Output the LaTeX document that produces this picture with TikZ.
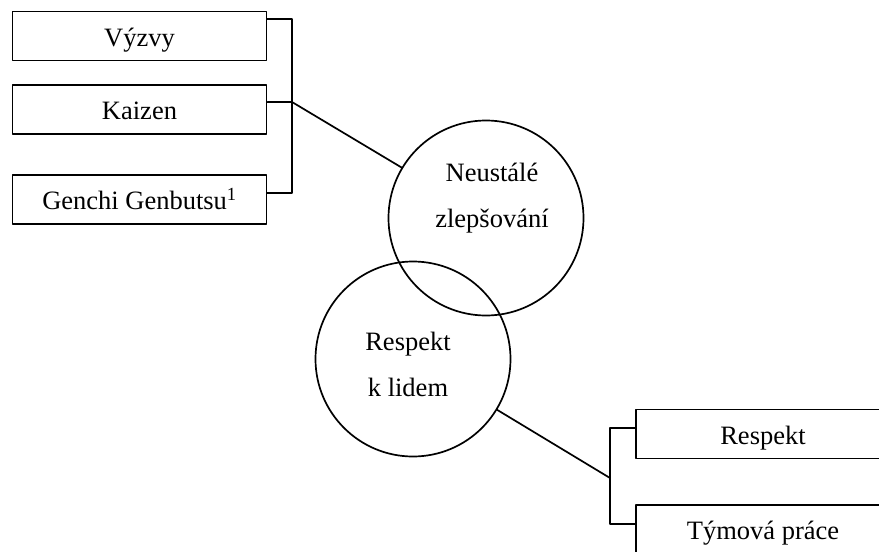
\documentclass[tikz,border=0pt]{standalone}
\usepackage{fontspec}
\setmainfont{Liberation Serif}
\usetikzlibrary{positioning}

\begin{document}
\begin{tikzpicture}[x=1pt, y=-1pt,
                    line cap=round, line join=round,
                    pillar/.style={draw, line width=1.7pt, minimum width=254pt,
                                   minimum height=49pt, inner sep=0pt,
                                   text height=21pt, text depth=1pt},
                    core/.style={draw, circle, line width=1.7pt,
                                 minimum size=195pt, inner sep=0pt},
                    link/.style={line width=1.7pt}]
  \tikzset{every node/.style={font=\fontsize{26.5}{46}\selectfont}}
  \useasboundingbox (0,0) rectangle (879,552);
  \clip (0,0) rectangle (879,552);

  % the two circles
  \node[core] (neus) at (486,218) {};
  \node[core] (resp) at (413,359) {};
  \node[align=center] (neustxt) at (492,198) {Neustálé\\zlepšování};
  \node[align=center] (resptxt) at (408,364) {Respekt\\k lidem};

  % left pillars
  \node[pillar] (vyzvy) at (139.5,36) {Výzvy};
  \node[pillar, below=23pt of vyzvy] (kaizen) {Kaizen};
  \node[pillar, below=39pt of kaizen] (genchi) {Genchi Genbutsu\textsuperscript{1}};

  % right pillars
  \node[pillar] (respekt) at (763,434) {Respekt};
  \node[pillar, below=45pt of respekt] (tym) {Týmová práce};

  % brackets
  \coordinate (brA) at (292,19);
  \coordinate (brB) at (292,102);
  \coordinate (brC) at (292,193);
  \draw[link] (vyzvy.east |- brA) -- (brA) -- (brC) -- (genchi.east |- brC);
  \draw[link] (kaizen.east |- brB) -- (brB) -- (neus);

  \coordinate (brD) at (610,428);
  \coordinate (brE) at (610,478);
  \coordinate (brF) at (610,524);
  \draw[link] (respekt.west |- brD) -- (brD) -- (brF) -- (tym.west |- brF);
  \draw[link] (resp) -- (brE);
\end{tikzpicture}
\end{document}
